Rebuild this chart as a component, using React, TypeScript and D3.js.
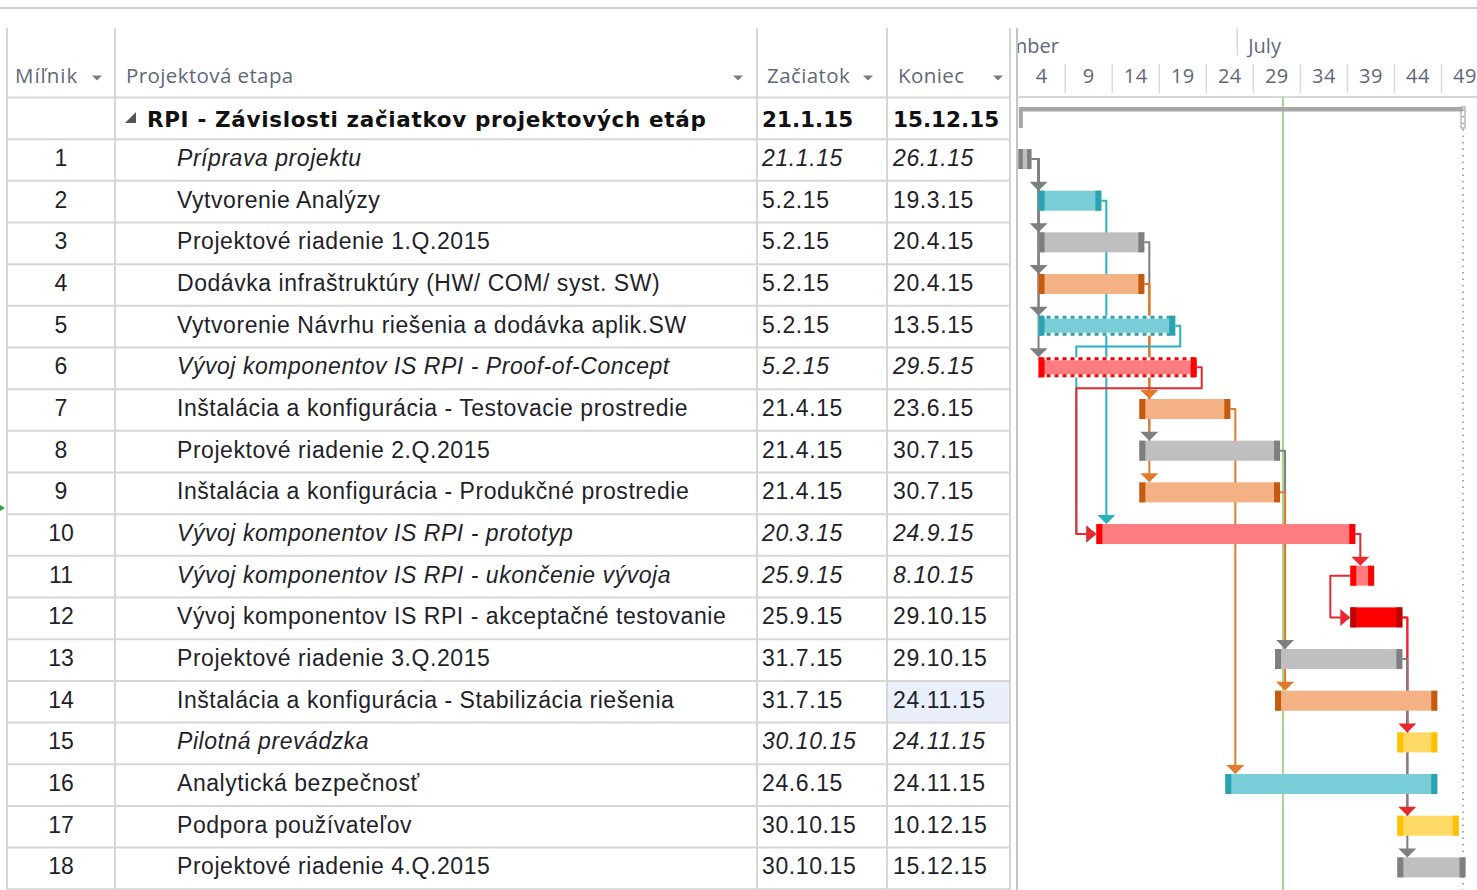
import React from 'react';
import * as d3 from 'd3';

// ---------- DATA ----------
const milestones = [1, 2, 3, 4, 5, 6, 7, 8, 9, 10, 11, 12, 13, 14, 15, 16, 17, 18];
const taskNames = [
  'Príprava projektu',
  'Vytvorenie Analýzy',
  'Projektové riadenie 1.Q.2015',
  'Dodávka infraštruktúry (HW/ COM/ syst. SW)',
  'Vytvorenie Návrhu riešenia a dodávka aplik.SW',
  'Vývoj komponentov IS RPI - Proof-of-Concept',
  'Inštalácia a konfigurácia - Testovacie prostredie',
  'Projektové riadenie 2.Q.2015',
  'Inštalácia a konfigurácia - Produkčné prostredie',
  'Vývoj komponentov IS RPI - prototyp',
  'Vývoj komponentov IS RPI - ukončenie vývoja',
  'Vývoj komponentov IS RPI - akceptačné testovanie',
  'Projektové riadenie 3.Q.2015',
  'Inštalácia a konfigurácia - Stabilizácia riešenia',
  'Pilotná prevádzka',
  'Analytická bezpečnosť',
  'Podpora používateľov',
  'Projektové riadenie 4.Q.2015',
];
const startDates = ['21.1.15', '5.2.15', '5.2.15', '5.2.15', '5.2.15', '5.2.15', '21.4.15', '21.4.15', '21.4.15', '20.3.15', '25.9.15', '25.9.15', '31.7.15', '31.7.15', '30.10.15', '24.6.15', '30.10.15', '30.10.15'];
const endDates = ['26.1.15', '19.3.15', '20.4.15', '20.4.15', '13.5.15', '29.5.15', '23.6.15', '30.7.15', '30.7.15', '24.9.15', '8.10.15', '29.10.15', '29.10.15', '24.11.15', '24.11.15', '24.11.15', '10.12.15', '15.12.15'];
const italicTasks = [1, 6, 10, 11, 15];
const barKinds = ['gray', 'teal', 'gray', 'orange', 'teal', 'pink', 'orange', 'gray', 'orange', 'pink', 'pink', 'red', 'gray', 'orange', 'yellow', 'teal', 'yellow', 'gray'];
const dashedTasks = [5, 6];
const summaryName = 'RPI - Závislosti začiatkov projektových etáp';
const summaryStart = '21.1.15';
const summaryEnd = '15.12.15';
const columnHeaders = ['Míľnik', 'Projektová etapa', 'Začiatok', 'Koniec'];
const weekLabels = [4, 9, 14, 19, 24, 29, 34, 39, 44, 49];
const weekTickStart = '19.1.15';
const tierLabels = ['December', 'July'];
const tierStarts = ['1.1.15', '1.7.15'];
const statusDate = '4.8.15';
const links: [number, number, string][] = [
  [1, 2, 'FS'], [1, 3, 'FS'], [1, 4, 'FS'], [1, 5, 'FS'], [1, 6, 'FS'],
  [2, 10, 'FS'], [3, 8, 'FS'], [4, 7, 'FS'], [4, 9, 'FS'],
  [5, 10, 'FS'], [6, 10, 'FS'], [7, 16, 'FS'], [8, 13, 'FS'], [9, 14, 'FS'],
  [10, 11, 'FS'], [11, 12, 'SS'], [12, 15, 'FS'], [12, 17, 'FS'], [13, 18, 'FS'],
];
const selectedCell = { row: 14, col: 3 };

// ---------- STYLE ----------
const palette: Record<string, { fill: string; cap: string; link: string }> = {
  gray: { fill: '#bfbfbf', cap: '#7f7f7f', link: '#7f7f7f' },
  teal: { fill: '#78cdd6', cap: '#2aa2b0', link: '#27b1c0' },
  orange: { fill: '#f4b183', cap: '#c55a11', link: '#e07a2c' },
  pink: { fill: '#ff7c80', cap: '#ff0000', link: '#e8282f' },
  red: { fill: '#ff0000', cap: '#c00000', link: '#e8282f' },
  yellow: { fill: '#ffd966', cap: '#ffc000', link: '#e8282f' },
};

const W = 1477;
const H = 890;
const rowTop0 = 97.5;
const rowH = 41.67;
const colX = [7, 115, 757, 887, 1010];
const tlLeft = 1017;
const headerTop = 28;

const parseD = (s: string) => {
  const [d, m, y] = s.split('.').map(Number);
  return new Date(2000 + y, m - 1, d);
};
const addDays = (dt: Date, n: number) => d3.timeDay.offset(dt, n);

const x = d3.scaleTime()
  .domain([new Date(2015, 0, 19), new Date(2015, 11, 16)])
  .range([1018.2, 1463]);

const rowTop = (i: number) => rowTop0 + i * rowH;
const rowMid = (i: number) => rowTop(i) + rowH / 2;

const tableFont = '"Liberation Sans", Arial, sans-serif';
const headFont = '"Open Sans", "Noto Sans", sans-serif';
const boldFont = '"DejaVu Sans", "Open Sans", sans-serif';
const textColor = '#1f1f2a';
const headColor = '#5f677a';
const gridColor = '#d6d6d6';

const BAR_H = 20;
const PAD = 2.5;
const CAP = 6;

function barGeom(i: number) {
  const s = parseD(startDates[i]);
  const e = addDays(parseD(endDates[i]), 1);
  const x0 = x(s) - PAD;
  const x1 = x(e) + PAD;
  const yc = rowMid(i + 1) - 1;
  return { x0, x1, y0: yc - BAR_H / 2, y1: yc + BAR_H / 2, yc };
}

function Bar({ i }: { i: number }) {
  const g = barGeom(i);
  const p = palette[barKinds[i]];
  const w = g.x1 - g.x0;
  const cap = Math.min(CAP, w / 3);
  const dashed = dashedTasks.includes(milestones[i]);
  return (
    <g>
      {dashed ? (
        <>
          <rect x={g.x0} y={g.y0} width={w} height={BAR_H} fill="#ffffff" />
          <rect x={g.x0} y={g.y0 + 3} width={w} height={BAR_H - 6} fill={p.fill} />
          <line x1={g.x0} x2={g.x1} y1={g.y0 + 1.5} y2={g.y0 + 1.5} stroke={p.cap} strokeWidth={3} strokeDasharray="4 4" />
          <line x1={g.x0} x2={g.x1} y1={g.y1 - 1.5} y2={g.y1 - 1.5} stroke={p.cap} strokeWidth={3} strokeDasharray="4 4" />
        </>
      ) : (
        <rect x={g.x0} y={g.y0} width={w} height={BAR_H} fill={p.fill} />
      )}
      <rect x={g.x0} y={g.y0} width={cap} height={BAR_H} fill={p.cap} />
      <rect x={g.x1 - cap} y={g.y0} width={cap} height={BAR_H} fill={p.cap} />
    </g>
  );
}

function linkGeometry(l: [number, number, string]) {
  const [from, to, type] = l;
  const a = barGeom(from - 1);
  const b = barGeom(to - 1);
  const color = palette[barKinds[from - 1]].link;
  const line = d3.line().curve(d3.curveLinear);
  let pts: [number, number][] = [];
  let arrow = '';
  if (type === 'SS') {
    const xl = b.x0 - 20;
    pts = [[a.x0, a.yc], [xl, a.yc], [xl, b.yc], [b.x0 - 8, b.yc]];
    arrow = `M${b.x0},${b.yc} L${b.x0 - 10},${b.yc - 8.5} L${b.x0 - 10},${b.yc + 8.5} Z`;
  } else if (b.x0 < a.x1 - 12) {
    const xr = a.x1 + 5;
    const yb = rowTop(from + 1) - 1;
    const xl = b.x0 - 20;
    pts = [[a.x1, a.yc], [xr, a.yc], [xr, yb], [xl, yb], [xl, b.yc], [b.x0 - 8, b.yc]];
    arrow = `M${b.x0},${b.yc} L${b.x0 - 10},${b.yc - 8.5} L${b.x0 - 10},${b.yc + 8.5} Z`;
  } else {
    const xd = Math.max(b.x0, a.x1 + 5);
    pts = [[a.x1, a.yc], [xd, a.yc], [xd, b.y0 - 6]];
    arrow = `M${xd},${b.y0} L${xd - 9},${b.y0 - 9} L${xd + 9},${b.y0 - 9} Z`;
  }
  return { d: line(pts) as string, arrow, color };
}

export default function App() {
  const linkGeo = links.map(linkGeometry);
  const weekStart = parseD(weekTickStart);
  const tickDates = weekLabels.map((_, k) => addDays(weekStart, 35 * k));
  const tickSpacing = x(addDays(weekStart, 35)) - x(weekStart);
  const statusX = x(parseD(statusDate));
  const finishX = x(addDays(parseD(summaryEnd), 1));
  const sumStartX = x(parseD(summaryStart));

  const dropArrow = (cx: number, cy: number, key: string) => (
    <path key={key} d={`M${cx - 5},${cy - 2.5} L${cx + 5},${cy - 2.5} L${cx},${cy + 2.5} Z`} fill="#7a7a7a" />
  );

  return (
    <div style={{ position: 'absolute', left: 0, top: 0 }}>
      <svg width={W} height={H} style={{ display: 'block', background: '#ffffff' }}>
        <defs>
          <clipPath id="tlclip">
            <rect x={tlLeft + 1} y={0} width={W - tlLeft - 1} height={H} />
          </clipPath>
        </defs>
        {/* top separator line */}
        <line x1={0} x2={W} y1={8} y2={8} stroke="#cfcfcf" strokeWidth={2} />

        {/* selected cell highlight */}
        <rect x={colX[selectedCell.col] + 1} y={rowTop(selectedCell.row) + 1} width={colX[selectedCell.col + 1] - colX[selectedCell.col] - 2} height={rowH - 2} fill="#e9effb" />

        {/* table grid */}
        {d3.range(0, 20).map((i) => (
          <line key={'h' + i} x1={colX[0]} x2={colX[4]} y1={rowTop(i)} y2={rowTop(i)} stroke={gridColor} strokeWidth={2} />
        ))}
        {colX.map((cx, i) => (
          <line key={'v' + i} x1={cx} x2={cx} y1={headerTop} y2={H} stroke={gridColor} strokeWidth={2} />
        ))}
        <line x1={tlLeft} x2={tlLeft} y1={headerTop} y2={H} stroke="#c4c4c4" strokeWidth={2} />
        <line x1={tlLeft} x2={W} y1={rowTop0 - 0.5} y2={rowTop0 - 0.5} stroke={gridColor} strokeWidth={2} />

        {/* column headers */}
        <g fontFamily={headFont} fontSize={20.5} fill={headColor} letterSpacing={0.4}>
          <text x={15} y={75} dominantBaseline="central" letterSpacing={1}>{columnHeaders[0]}</text>
          <text x={126} y={75} dominantBaseline="central">{columnHeaders[1]}</text>
          <text x={767} y={75} dominantBaseline="central">{columnHeaders[2]}</text>
          <text x={898} y={75} dominantBaseline="central">{columnHeaders[3]}</text>
        </g>
        {dropArrow(97, 78, 'a1')}
        {dropArrow(738, 78, 'a2')}
        {dropArrow(868, 78, 'a3')}
        {dropArrow(998, 78, 'a4')}

        {/* summary row */}
        <path d={`M136,112 L136,123 L125,123 Z`} fill="#555" />
        <g fontFamily={boldFont} fontWeight={700} fontSize={21.5} fill="#111">
          <text x={147} y={rowMid(0) + 1.5} dominantBaseline="central" letterSpacing={0.65}>{summaryName}</text>
          <text x={762} y={rowMid(0) + 1.5} dominantBaseline="central">{summaryStart}</text>
          <text x={893} y={rowMid(0) + 1.5} dominantBaseline="central">{summaryEnd}</text>
        </g>

        {/* task rows */}
        <g fontFamily={tableFont} fontSize={23} fill={textColor}>
          {milestones.map((m, i) => {
            const it = italicTasks.includes(m);
            const y = rowMid(i + 1) - 2;
            const st = it ? 'italic' : 'normal';
            return (
              <g key={m}>
                <text x={61} y={y} textAnchor="middle" dominantBaseline="central">{m}</text>
                <text x={177} y={y} dominantBaseline="central" fontStyle={st} letterSpacing={0.55}>{taskNames[i]}</text>
                <text x={762} y={y} dominantBaseline="central" fontStyle={st} letterSpacing={0.6}>{startDates[i]}</text>
                <text x={893} y={y} dominantBaseline="central" fontStyle={st} letterSpacing={0.6}>{endDates[i]}</text>
              </g>
            );
          })}
        </g>

        {/* small marker at left edge */}
        <path d="M0,505 L5,508 L0,511 Z" fill="#2e9e3e" />

        {/* timeline */}
        <g clipPath="url(#tlclip)">
          {/* tier 1 */}
          {tierLabels.map((lab, k) => {
            const tx = x(parseD(tierStarts[k]));
            return (
              <g key={lab}>
                {k > 0 && <line x1={tx} x2={tx} y1={headerTop} y2={55} stroke="#d9d9d9" strokeWidth={1.5} />}
                {k === 0 ? (
                  <text x={1059} y={45} textAnchor="end" dominantBaseline="central" fontFamily={headFont} fontSize={20} fill={headColor}>{lab}</text>
                ) : (
                  <text x={tx + 11} y={45} dominantBaseline="central" fontFamily={headFont} fontSize={20} fill={headColor}>{lab}</text>
                )}
              </g>
            );
          })}
          {/* tier 2 */}
          {tickDates.map((dt, k) => {
            const tx = x(dt);
            return (
              <g key={k}>
                {k > 0 && <line x1={tx} x2={tx} y1={64} y2={93} stroke="#d9d9d9" strokeWidth={1.5} />}
                <text x={tx + tickSpacing / 2} y={75} textAnchor="middle" dominantBaseline="central" fontFamily={headFont} fontSize={20} fill={headColor} letterSpacing={0.5}>{weekLabels[k]}</text>
              </g>
            );
          })}

          {/* status date line */}
          <line x1={statusX} x2={statusX} y1={rowTop0} y2={H} stroke="#a9d18e" strokeWidth={2} />
          {/* project finish dotted line */}
          <line x1={finishX} x2={finishX} y1={rowTop0 + 12} y2={H} stroke="#8c8c8c" strokeWidth={1.5} strokeDasharray="1.5 5" />

          {/* summary bar */}
          <rect x={sumStartX - 2} y={107} width={finishX - sumStartX + 2} height={4.5} fill="#a6a6a6" />
          <rect x={sumStartX - 2} y={107} width={4} height={21} fill="#a6a6a6" />
          <rect x={finishX - 2} y={107} width={4} height={21} fill="none" stroke="#a6a6a6" strokeWidth={1.2} />

          {/* links */}
          {linkGeo.map((g, k) => (
            <path key={'l' + k} d={g.d} fill="none" stroke={g.color} strokeWidth={2} strokeLinejoin="round" />
          ))}

          {/* bars */}
          {milestones.map((m, i) => <Bar key={'b' + m} i={i} />)}

          {/* arrowheads */}
          {linkGeo.map((g, k) => (
            <path key={'a' + k} d={g.arrow} fill={g.color} />
          ))}
        </g>
      </svg>
    </div>
  );
}
